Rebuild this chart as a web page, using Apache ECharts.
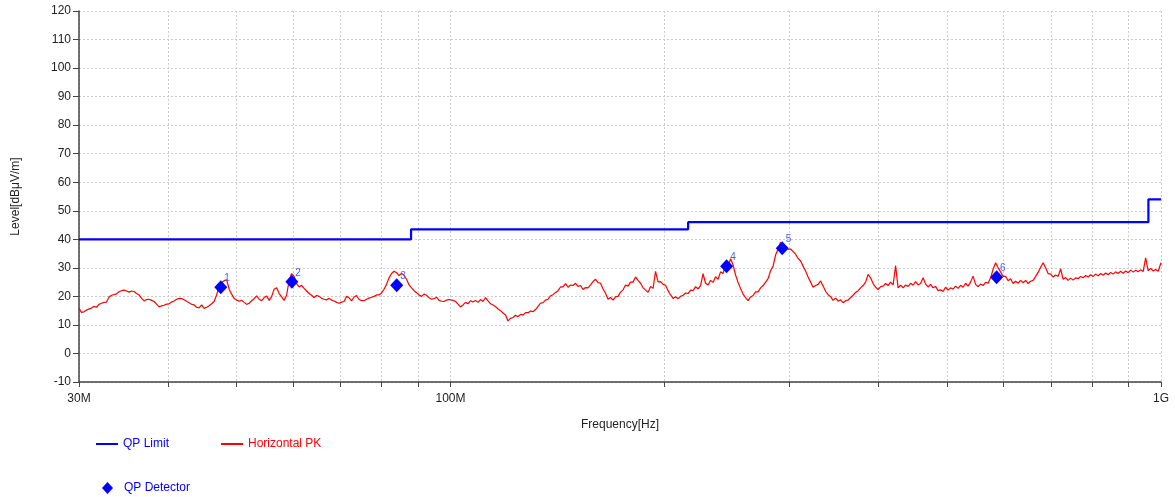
<!DOCTYPE html>
<html>
<head>
<meta charset="utf-8">
<script src="https://cdn.jsdelivr.net/npm/echarts@6/dist/echarts.min.js"></script>
<style>
html,body{margin:0;padding:0;background:#fff;}
#chart{width:1175px;height:497px;}
</style>
</head>
<body>
<div id="chart"></div>
<script>
// ---- Data (frequency in MHz, level in dBµV/m) ----
const limitFreq = [30, 88, 88, 216, 216, 960, 960, 1000];
const limitLevel = [40, 40, 43.5, 43.5, 46, 46, 54, 54];

const qpFreq = [47.5, 59.8, 84.0, 244.7, 293.0, 587.0];
const qpLevel = [23.2, 25.1, 23.9, 30.6, 36.9, 26.7];
const qpIds = ['1', '2', '3', '4', '5', '6'];

const xTickValues = [30, 40, 50, 60, 70, 80, 90, 100, 200, 300, 400, 500, 600, 700, 800, 900, 1000];
const xLabelValues = [30, 100, 1000];
const xLabelText = ['30M', '100M', '1G'];

const peakLow = [
[30.00,15.8],[30.24,14.4],[30.49,14.6],[30.74,15.2],[30.99,15.6],[31.24,15.9],[31.50,16.5],[31.75,16.2],[32.01,17.2],[32.27,17.6],
[32.53,17.9],[32.80,18.0],[33.07,19.8],[33.34,20.4],[33.61,20.6],[33.88,20.9],[34.16,21.6],[34.44,22.0],[34.71,22.2],[34.99,21.9],
[35.28,21.5],[35.57,21.9],[35.86,21.7],[36.15,21.0],[36.45,20.5],[36.75,19.3],[37.04,18.4],[37.34,18.9],[37.65,19.0],[37.96,18.6],
[38.26,18.2],[38.57,17.3],[38.89,16.3],[39.21,16.7],[39.52,16.9],[39.84,17.3],[40.17,17.4],[40.50,18.0],[40.83,18.4],[41.16,19.0],
[41.50,19.3],[41.84,19.2],[42.17,18.8],[42.51,18.3],[42.86,17.8],[43.21,17.2],[43.56,17.0],[43.91,16.2],[44.28,16.0],[44.64,17.0],
[45.00,15.8],[45.37,16.2],[45.74,16.7],[46.11,17.4],[46.48,18.2],[46.86,20.5],[47.25,23.5],[47.63,24.8],[48.02,25.5],[48.41,25.8],
[48.80,22.5],[49.20,20.8],[49.60,19.3],[50.00,18.7],[50.42,18.3],[50.83,18.6],[51.24,17.9],[51.66,17.2],[52.07,17.6],[52.49,18.5],
[52.92,19.2],[53.35,20.2],[53.79,19.0],[54.23,18.5],[54.67,19.6],[55.11,20.1],[55.56,18.6],[56.01,20.0],[56.47,22.5],[56.93,23.0],
[57.39,21.0],[57.86,19.8],[58.32,18.6],[58.79,20.4],[59.27,25.5],[59.75,28.0],[60.24,27.0],[60.73,24.5],[61.22,23.3],[61.72,23.9],
[62.22,22.8],[62.73,21.9],[63.24,21.0],[63.75,20.4],[64.27,19.6],[64.79,20.3],[65.32,20.0],[65.85,19.3],[66.39,19.0],[66.93,18.8],
[67.47,19.3],[68.02,18.7],[68.57,18.4],[69.13,17.9],[69.68,17.6],[70.25,18.0],[70.82,18.2],[71.40,20.0],[71.98,19.5],[72.57,18.4],
[73.15,19.8],[73.75,20.3],[74.35,18.9],[74.96,18.5],[75.56,18.5],[76.18,19.0],[76.80,19.4],[77.43,19.7],[78.05,20.0],[78.69,20.5],
[79.32,20.5],[79.97,21.2],[80.62,22.5],[81.28,24.2],[81.94,26.5],[82.61,28.0],[83.27,28.8],[83.95,28.3],[84.64,27.3],[85.33,28.0],
[86.02,27.3],[86.72,26.0],[87.43,24.0],[88.14,23.0],[88.86,22.0],[89.58,21.3],[90.31,20.5],[91.05,20.0],[91.78,20.8],[92.53,20.4],
[93.28,19.5],[94.04,19.0],[94.81,19.2],[95.58,19.7],[96.36,18.6],[97.14,18.3],[97.93,18.2],[98.73,18.7],[99.53,18.9]
];

const peakHigh = [
[100.00,19.3],[100.81,18.6],[101.63,18.2],[102.46,17.3],[103.30,16.3],[104.14,17.0],[104.98,17.9],[105.83,17.4],[106.70,18.5],[107.57,18.0],
[108.44,18.6],[109.32,17.9],[110.21,18.9],[111.11,18.2],[112.01,19.6],[112.92,18.4],[113.85,17.4],[114.78,17.0],[115.71,16.4],[116.65,15.6],
[117.60,15.0],[118.56,14.2],[119.52,13.5],[120.49,11.4],[121.47,12.3],[122.46,12.6],[123.46,13.4],[124.46,12.9],[125.48,13.7],[126.50,13.5],
[127.53,14.3],[128.57,14.3],[129.61,14.9],[130.67,14.6],[131.73,15.4],[132.80,16.5],[133.88,17.6],[134.97,17.8],[136.07,18.7],[137.18,19.0],
[138.29,20.2],[139.42,20.6],[140.55,21.4],[141.69,22.0],[142.85,23.3],[144.01,23.3],[145.18,24.5],[146.36,23.2],[147.55,24.0],[148.75,23.8],
[149.96,24.6],[151.18,23.5],[152.41,23.8],[153.65,22.4],[154.90,23.1],[156.16,23.0],[157.44,24.0],[158.72,25.2],[160.01,26.0],[161.31,24.8],
[162.62,24.6],[163.94,22.6],[165.28,21.1],[166.63,19.0],[167.98,19.6],[169.35,18.7],[170.73,19.9],[172.12,20.0],[173.52,21.5],[174.93,22.3],
[176.35,24.0],[177.79,23.6],[179.23,25.0],[180.69,25.0],[182.16,26.8],[183.64,25.6],[185.14,24.6],[186.65,23.0],[188.16,22.2],[189.69,21.4],
[191.24,23.5],[192.80,22.8],[194.36,28.8],[195.94,25.1],[197.54,25.2],[199.15,24.2],[200.76,23.9],[202.39,22.0],[204.05,20.5],[205.71,19.3],
[207.38,19.9],[209.07,19.2],[210.77,20.0],[212.49,20.4],[214.21,21.2],[215.95,21.0],[217.71,22.2],[219.48,22.0],[221.27,23.4],[223.07,22.6],
[224.88,23.8],[226.71,28.0],[228.56,24.6],[230.42,24.0],[232.29,25.6],[234.18,24.9],[236.09,26.9],[238.01,26.0],[239.94,28.6],[241.89,28.0],
[243.86,31.5],[245.85,30.4],[247.85,33.2],[249.87,31.0],[251.90,27.5],[253.95,24.9],[256.01,22.8],[258.09,20.8],[260.20,19.6],[262.32,18.5],
[264.45,19.8],[266.60,20.3],[268.77,21.6],[270.96,21.6],[273.16,23.0],[275.38,23.8],[277.62,25.0],[279.88,26.2],[282.16,29.0],[284.46,30.6],
[286.77,34.5],[289.10,36.6],[291.45,39.0],[293.82,38.0],[296.22,37.6],[298.63,36.5],[301.06,36.6],[303.51,35.7],[305.97,34.8],[308.46,33.3],
[310.97,32.4],[313.50,30.6],[316.05,28.9],[318.62,26.8],[321.22,25.0],[323.83,23.2],[326.46,23.8],[329.12,24.2],[331.80,25.4],[334.50,23.6],
[337.22,21.8],[339.97,20.6],[342.73,19.9],[345.52,18.6],[348.33,19.4],[351.17,18.3],[354.02,18.8],[356.90,17.8],[359.80,18.5],[362.73,18.7],
[365.68,19.6],[368.66,20.4],[371.66,21.4],[374.69,22.0],[377.73,23.0],[380.80,23.8],[383.90,25.0],[387.03,27.7],[390.17,26.5],[393.35,24.5],
[396.55,23.2],[399.78,22.4],[403.03,23.4],[406.31,23.6],[409.61,24.5],[412.94,23.8],[416.30,25.0],[419.69,24.0],[423.10,30.8],[426.54,23.0],
[430.01,23.9],[433.51,23.0],[437.04,24.0],[440.60,23.5],[444.18,24.6],[447.80,23.9],[451.44,25.2],[455.11,24.0],[458.81,24.5],[462.55,26.5],
[466.31,24.3],[470.11,23.3],[473.93,24.2],[477.79,23.0],[481.67,23.5],[485.59,22.0],[489.54,22.3],[493.52,21.7],[497.54,23.2],[501.59,22.2],
[505.67,23.0],[509.8,22.5],[513.9,23.6],[518.1,22.8],[522.3,23.9],[526.6,23.2],[530.8,24.6],[535.1,23.6],[539.5,25.0],[543.9,27.1],
[548.3,24.2],[552.8,23.4],[557.3,24.3],[561.8,23.8],[566.4,24.9],[571.0,24.6],[575.7,26.5],[580.4,29.5],[585.1,31.8],[589.9,30.0],
[594.6,28.6],[599.4,27.0],[604.4,27.0],[609.3,25.5],[614.2,26.2],[619.2,24.5],[624.3,25.3],[629.4,24.6],[634.5,25.6],[639.7,24.8],
[644.9,25.6],[650.2,24.5],[655.4,25.3],[660.7,25.6],[666.1,27.0],[671.5,28.4],[677.0,30.2],[682.5,31.8],[688.0,30.0],[693.6,28.0],
[699.3,27.8],[705.0,26.8],[710.7,27.5],[716.5,27.0],[722.3,29.6],[728.2,26.0],[734.1,26.6],[740.1,25.6],[746.1,26.4],[752.2,25.7],
[758.3,26.5],[764.5,26.2],[770.7,27.0],[777.0,26.5],[783.3,27.3],[789.7,26.8],[796.1,27.6],[802.6,27.0],[809.1,27.8],[815.7,27.2],
[822.3,28.0],[829.0,27.4],[835.8,28.2],[842.6,27.6],[849.4,28.4],[856.3,27.8],[863.3,28.6],[870.3,28.0],[877.4,28.8],[884.5,28.1],
[891.8,28.9],[899.1,28.3],[906.4,29.2],[913.8,28.5],[921.2,29.2],[928.7,28.6],[936.2,29.3],[943.8,28.7],[951.5,33.5],[959.2,29.0],
[967.1,29.8],[975.0,28.9],[982.9,29.4],[990.9,28.8],[1000,31.8]
];

const yMin = -10, yMax = 120, yStep = 10;

// ---- Build options ----
const FONT = '"Liberation Sans", Arial, sans-serif';
const peakData = peakLow.concat(peakHigh);
const limitData = limitFreq.map((f, i) => [f, limitLevel[i]]);
const qpData = qpFreq.map((f, i) => ({ value: [f, qpLevel[i]], name: qpIds[i] }));

const chart = echarts.init(document.getElementById('chart'), null, { renderer: 'canvas' });
chart.setOption({
  animation: false,
  backgroundColor: '#ffffff',
  textStyle: { fontFamily: FONT },
  grid: { left: 79, right: 14, top: 11, bottom: 115 },
  legend: [
    {
      left: 91, top: 433, orient: 'horizontal', itemGap: 52, itemWidth: 22, itemHeight: 2,
      icon: 'rect',
      textStyle: { fontFamily: FONT, fontSize: 12 },
      data: [
        { name: 'QP Limit', textStyle: { color: '#0000ff' } },
        { name: 'Horizontal PK', textStyle: { color: '#ff0000' } }
      ]
    },
    {
      left: 97, top: 477, itemWidth: 11, itemHeight: 12,
      icon: 'diamond',
      textStyle: { fontFamily: FONT, fontSize: 12, padding: [0, 0, 0, 6] },
      data: [{ name: 'QP Detector', itemStyle: { color: '#0000ff', opacity: 1 }, textStyle: { color: '#0000ff' } }]
    }
  ],
  xAxis: {
    type: 'log', logBase: 10, min: 30, max: 1000,
    name: 'Frequency[Hz]', nameLocation: 'middle', nameGap: 37,
    nameTextStyle: { color: '#222', fontSize: 12, fontFamily: FONT },
    axisLine: { show: true, onZero: false, lineStyle: { color: '#444', width: 1.5 } },
    axisTick: { show: true, length: 5, customValues: xTickValues, lineStyle: { color: '#444' } },
    axisLabel: {
      customValues: xLabelValues, color: '#222', fontSize: 12, margin: 11, fontFamily: FONT,
      formatter: v => { const i = xLabelValues.findIndex(t => Math.abs(t - v) < 1e-6); return i >= 0 ? xLabelText[i] : ''; }
    },
    splitLine: { show: true, lineStyle: { color: '#cccccc', type: [2, 2], width: 1 } },
    minorTick: { show: false }, minorSplitLine: { show: false }
  },
  yAxis: {
    type: 'value', min: yMin, max: yMax, interval: yStep,
    name: 'Level[dBμV/m]', nameLocation: 'middle', nameGap: 57, nameRotate: 90,
    nameTextStyle: { color: '#222', fontSize: 12, fontFamily: FONT },
    axisLine: { show: true, lineStyle: { color: '#444', width: 1.5 } },
    axisTick: { show: true, length: 6, lineStyle: { color: '#444' } },
    axisLabel: { color: '#222', fontSize: 12, margin: 8, fontFamily: FONT },
    splitLine: { show: true, lineStyle: { color: '#cccccc', type: [2, 2], width: 1 } }
  },
  series: [
    {
      name: 'Horizontal PK', type: 'line', data: peakData, showSymbol: false, symbol: 'none',
      lineStyle: { color: '#ff0000', width: 1.2 }, itemStyle: { color: '#ff0000' }, z: 2
    },
    {
      name: 'QP Limit', type: 'line', data: limitData, showSymbol: false, symbol: 'none',
      lineStyle: { color: '#0000ff', width: 2.2 }, itemStyle: { color: '#0000ff' }, z: 3
    },
    {
      name: 'QP Detector', type: 'scatter', data: qpData, symbol: 'diamond', symbolSize: [13, 14],
      itemStyle: { color: '#0000ff', opacity: 1 }, z: 4,
      label: { show: true, position: [10, -7], formatter: p => p.name, color: '#4a5cff', fontSize: 10, fontFamily: FONT }
    }
  ]
});
</script>
</body>
</html>
